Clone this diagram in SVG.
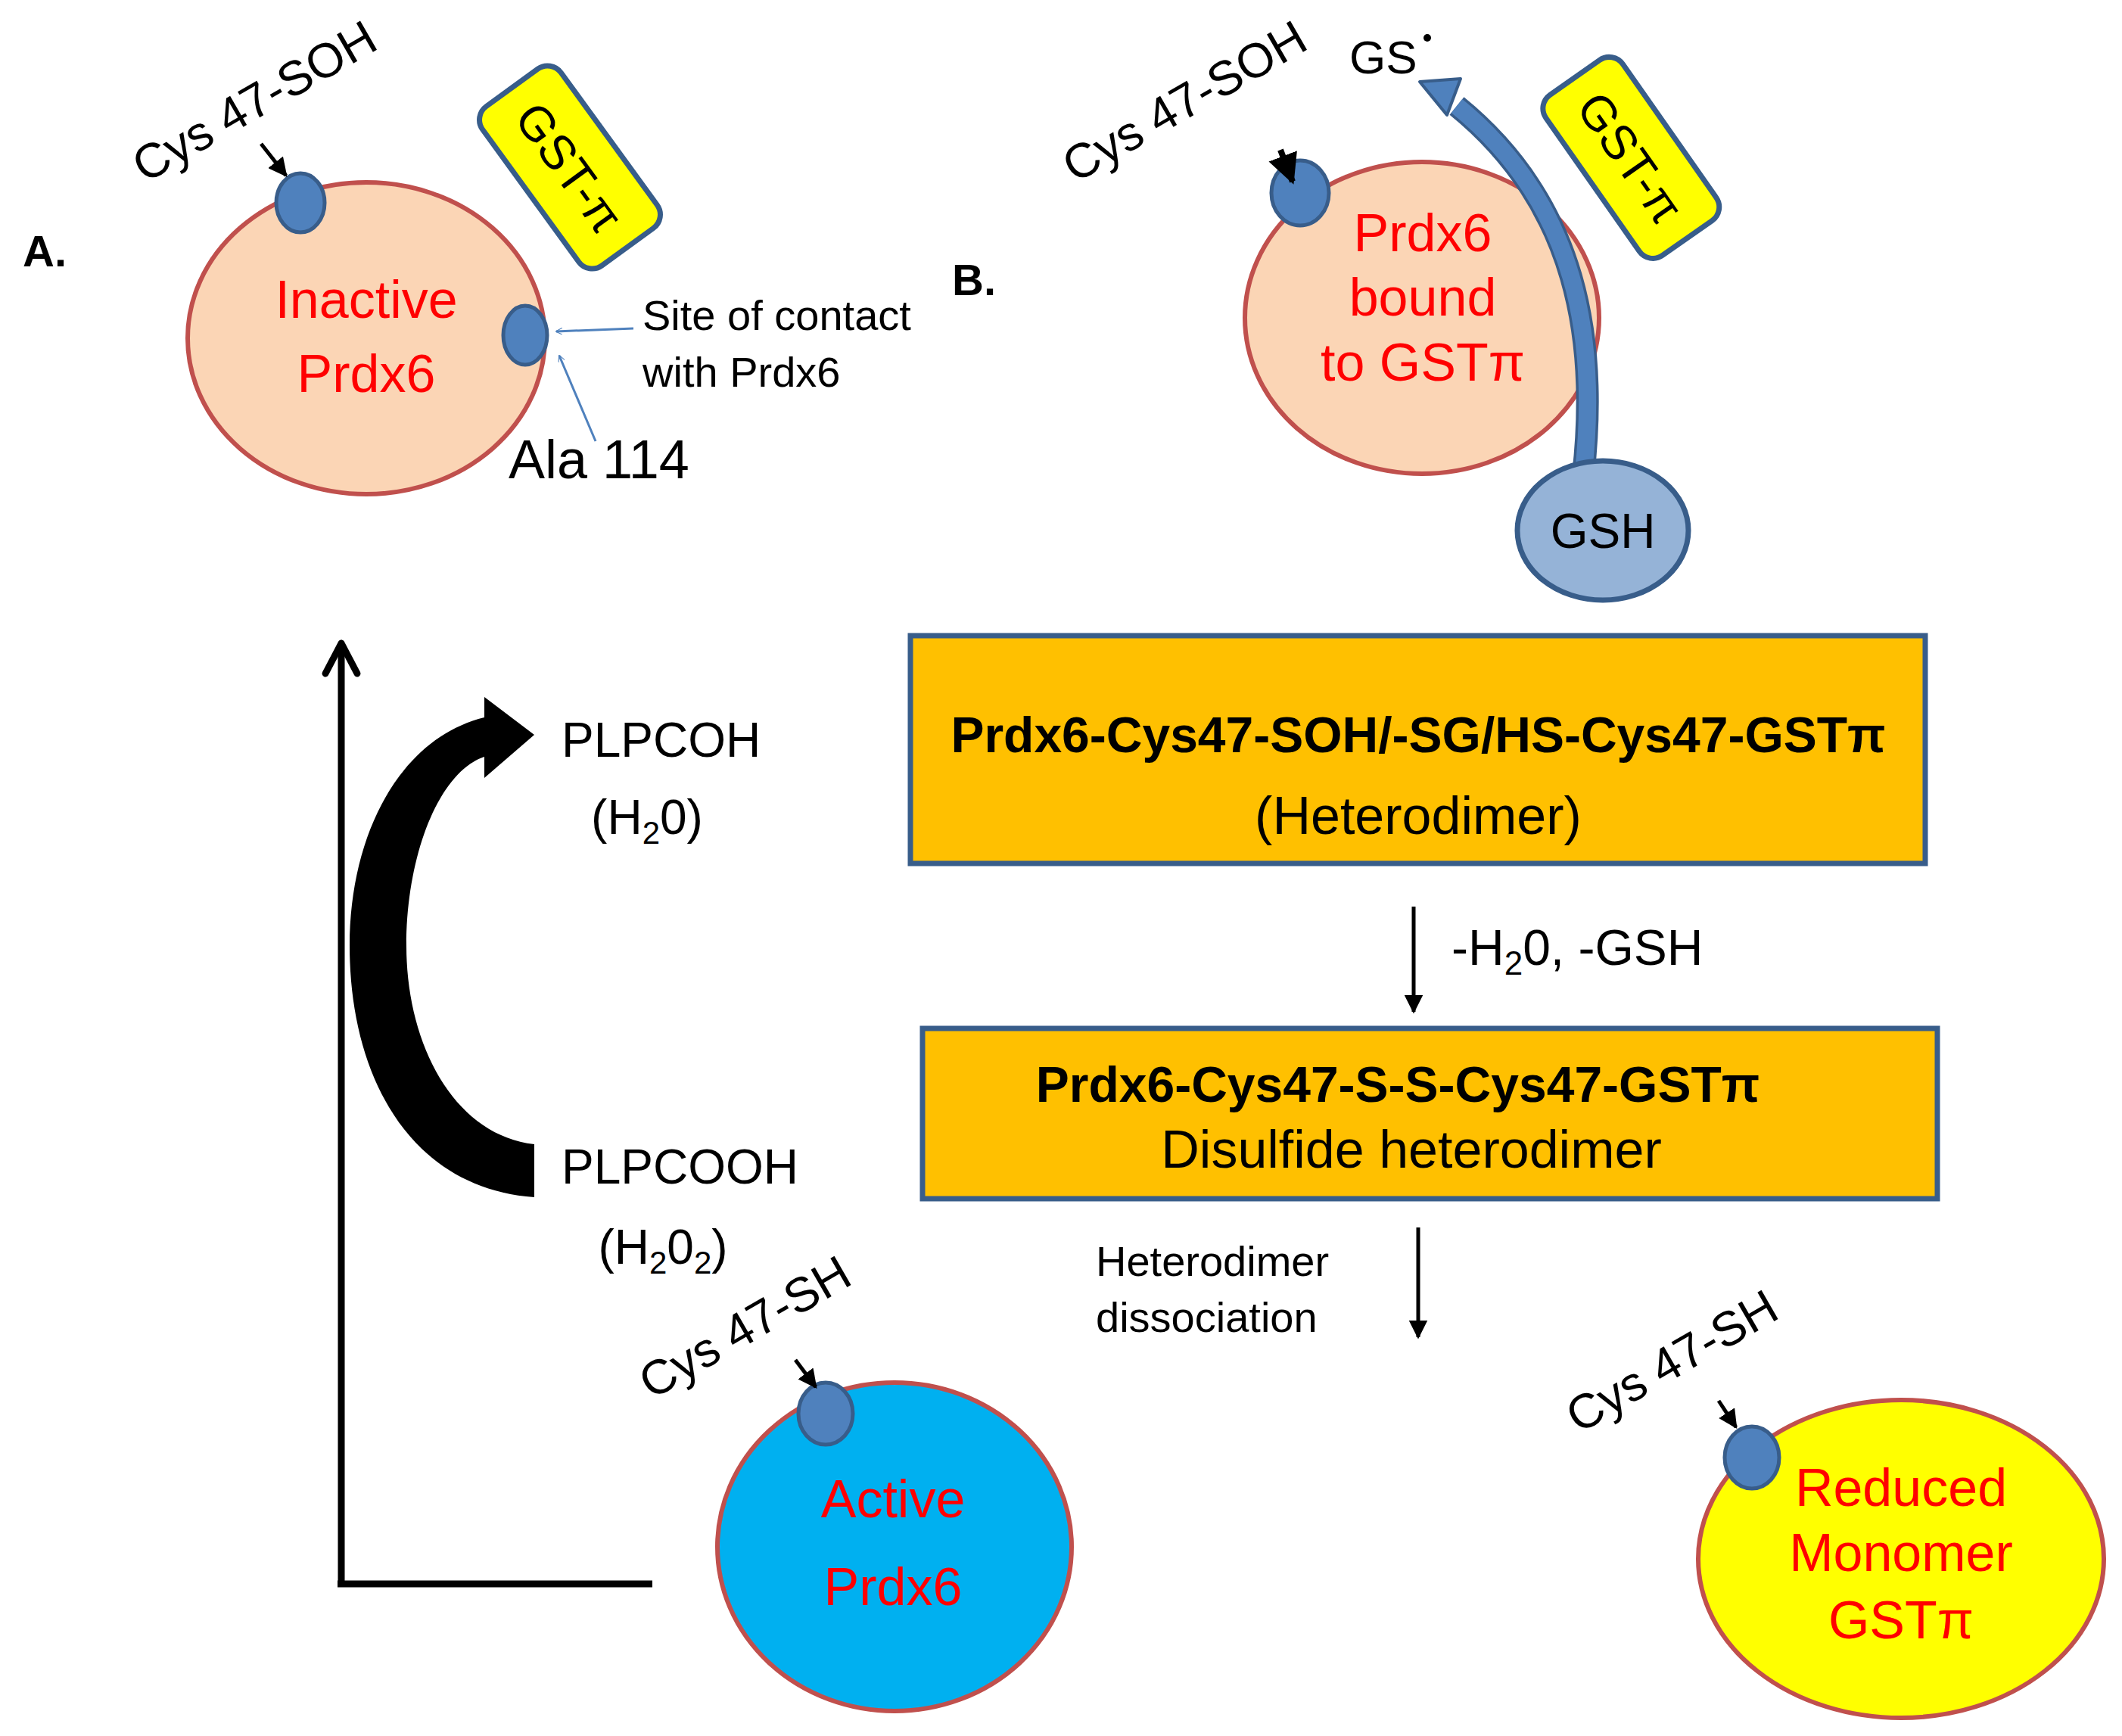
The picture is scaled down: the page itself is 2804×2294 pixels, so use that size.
<svg xmlns="http://www.w3.org/2000/svg" width="2804" height="2294" viewBox="0 0 2804 2294">
<style>
text{font-family:"Liberation Sans",Arial,sans-serif;fill:#000}
.red{fill:#ff0000;font-size:70px;text-anchor:middle}
.lbl{font-size:64px}
.prdx{fill:#fbd5b5;stroke:#c0504d;stroke-width:6}
.dot{fill:#4f81bd;stroke:#385d8a;stroke-width:5}
.gst{fill:#ffff00;stroke:#385d8a;stroke-width:7}
.box{fill:#ffc000;stroke:#385d8a;stroke-width:7}
.ln{stroke:#000;stroke-width:5;fill:none}
</style>
<defs>
<marker id="ah" viewBox="0 0 10 10" refX="9" refY="5" markerWidth="5" markerHeight="5" orient="auto"><path d="M0,0 L10,5 L0,10 z" fill="#000"/></marker>
<marker id="bh" viewBox="0 0 10 10" refX="9" refY="5" markerWidth="9" markerHeight="9" orient="auto" markerUnits="userSpaceOnUse"><path d="M0,0 L10,5 L0,10" fill="none" stroke="#4f81bd" stroke-width="1.2"/></marker>
</defs>
<text x="30" y="352" font-size="58" font-weight="bold">A.</text>
<text x="1258" y="390" font-size="58" font-weight="bold">B.</text>

<g id="nodeA">
<ellipse class="prdx" cx="484" cy="447" rx="236" ry="206"/>
<ellipse class="dot" cx="397" cy="268" rx="32" ry="39"/>
<ellipse class="dot" cx="694" cy="443" rx="29" ry="39"/>
<text class="red" x="484" y="420">Inactive</text>
<text class="red" x="484" y="518">Prdx6</text>
<text class="lbl" x="336" y="156" text-anchor="middle" transform="rotate(-30 336 134)">Cys 47-SOH</text>
<g transform="rotate(54 753 221)"><rect class="gst" x="623" y="157" width="260" height="128" rx="22"/><text x="753" y="244" font-size="64" text-anchor="middle">GST-π</text></g>
<text x="849" y="436" font-size="56">Site of contact</text>
<text x="849" y="511" font-size="56">with Prdx6</text>
<text x="672" y="632" font-size="72">Ala 114</text>
</g>

<g id="nodeB">
<ellipse class="prdx" cx="1879" cy="420" rx="234" ry="206"/>
<ellipse class="dot" cx="1718" cy="255" rx="38" ry="43"/>
<text class="red" x="1880" y="332">Prdx6</text>
<text class="red" x="1880" y="417">bound</text>
<text class="red" x="1880" y="503">to GSTπ</text>
<text class="lbl" x="1565" y="156" text-anchor="middle" transform="rotate(-30 1565 134)">Cys 47-SOH</text>
<text x="1783" y="97" font-size="62">GS</text>
<circle cx="1886" cy="50" r="5" fill="#000"/>
<g transform="rotate(55 2155 208)"><rect class="gst" x="2026" y="146" width="259" height="124" rx="22"/><text x="2155" y="231" font-size="64" text-anchor="middle">GST-π</text></g>
<path d="M2092,628 C2112,450 2085,270 1925,140" fill="none" stroke="#385d8a" stroke-width="30"/>
<path d="M2092,628 C2112,450 2085,270 1925,140" fill="none" stroke="#4f81bd" stroke-width="23"/>
<path d="M1876,108 L1930,104 L1912,152 Z" fill="#4f81bd" stroke="#385d8a" stroke-width="4" stroke-linejoin="round"/>
<ellipse cx="2118" cy="701" rx="113" ry="92" fill="#95b3d7" stroke="#385d8a" stroke-width="7"/>
<text x="2118" y="724" font-size="64" text-anchor="middle">GSH</text>
</g>

<g id="box1">
<rect class="box" x="1203" y="840" width="1341" height="301"/>
<text x="1874" y="994" font-size="66" font-weight="bold" text-anchor="middle">Prdx6-Cys47-SOH/-SG/HS-Cys47-GSTπ</text>
<text x="1874" y="1102" font-size="70" text-anchor="middle">(Heterodimer)</text>
</g>
<g id="box2">
<rect class="box" x="1219" y="1359" width="1341" height="225"/>
<text x="1847" y="1456" font-size="66" font-weight="bold" text-anchor="middle">Prdx6-Cys47-S-S-Cys47-GSTπ</text>
<text x="1865" y="1543" font-size="70" text-anchor="middle">Disulfide heterodimer</text>
</g>

<g id="active">
<ellipse cx="1182" cy="2044" rx="234" ry="217" fill="#00b0f0" stroke="#c0504d" stroke-width="6"/>
<ellipse class="dot" cx="1091" cy="1868" rx="36" ry="41"/>
<text class="red" x="1180" y="2005">Active</text>
<text class="red" x="1180" y="2121">Prdx6</text>
<text class="lbl" x="983" y="1776" text-anchor="middle" transform="rotate(-30 983 1752)">Cys 47-SH</text>
</g>
<g id="monomer">
<ellipse cx="2512" cy="2060" rx="268" ry="210" fill="#ffff00" stroke="#c0504d" stroke-width="6"/>
<ellipse class="dot" cx="2315" cy="1926" rx="36" ry="41"/>
<text class="red" x="2512" y="1990">Reduced</text>
<text class="red" x="2512" y="2076">Monomer</text>
<text class="red" x="2512" y="2165">GSTπ</text>
<text class="lbl" x="2208" y="1821" text-anchor="middle" transform="rotate(-30 2208 1797)">Cys 47-SH</text>
</g>

<g id="labels">
<text x="742" y="1000" font-size="64">PLPCOH</text>
<text x="855" y="1102" font-size="64" text-anchor="middle">(H<tspan font-size="42" dy="13">2</tspan><tspan dy="-13">0)</tspan></text>
<text x="742" y="1564" font-size="64">PLPCOOH</text>
<text x="876" y="1670" font-size="64" text-anchor="middle">(H<tspan font-size="42" dy="13">2</tspan><tspan dy="-13">0</tspan><tspan font-size="42" dy="13">2</tspan><tspan dy="-13">)</tspan></text>
<text x="1918" y="1275" font-size="66">-H<tspan font-size="44" dy="13">2</tspan><tspan dy="-13">0, -GSH</tspan></text>
<text x="1448" y="1686" font-size="56">Heterodimer</text>
<text x="1448" y="1760" font-size="56">dissociation</text>
</g>

<g id="connectors">
<path d="M451,2095 L451,858" stroke="#000" stroke-width="9" fill="none"/>
<path d="M451,850 L430,890 M451,850 L472,890" stroke="#000" stroke-width="9" fill="none" stroke-linecap="round"/>
<path d="M446,2093 L862,2093" stroke="#000" stroke-width="9"/>
<path d="M706,1582 C540,1570 462,1420 462,1250 C462,1100 530,975 640,948 L640,921 L706,971 L640,1028 L640,1000 C580,1020 537,1130 537,1250 C537,1380 600,1500 706,1512 Z" fill="#000"/>
<line class="ln" x1="1868" y1="1198" x2="1868" y2="1337" marker-end="url(#ah)"/>
<line class="ln" x1="1874" y1="1622" x2="1874" y2="1767" marker-end="url(#ah)"/>
<line class="ln" x1="345" y1="190" x2="378" y2="232" marker-end="url(#ah)"/>
<line x1="1692" y1="198" x2="1708" y2="240" stroke="#000" stroke-width="8" marker-end="url(#ah)"/>
<line class="ln" x1="1051" y1="1797" x2="1078" y2="1833" marker-end="url(#ah)"/>
<line class="ln" x1="2271" y1="1851" x2="2294" y2="1886" marker-end="url(#ah)"/>
<line x1="837" y1="434" x2="735" y2="438" stroke="#4f81bd" stroke-width="3" marker-end="url(#bh)"/>
<line x1="787" y1="583" x2="739" y2="470" stroke="#4f81bd" stroke-width="3" marker-end="url(#bh)"/>
</g>
</svg>
